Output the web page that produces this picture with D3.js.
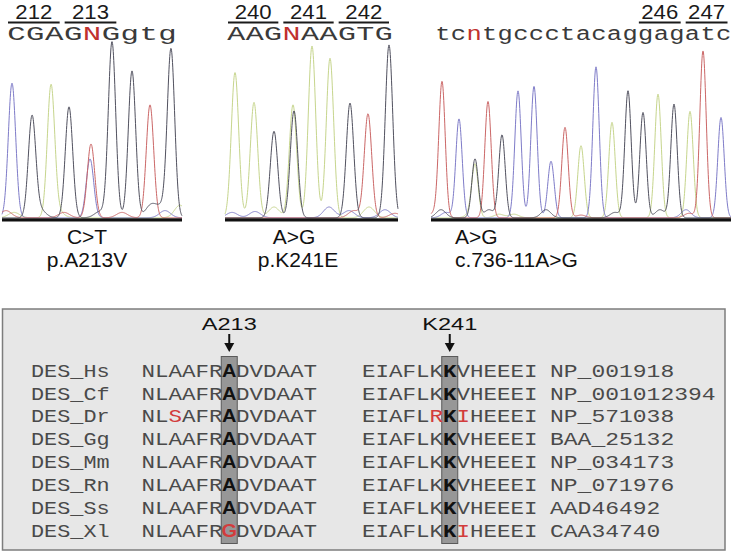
<!DOCTYPE html>
<html><head><meta charset="utf-8">
<script src="https://cdn.jsdelivr.net/npm/d3@7"></script>
<style>body{margin:0;background:#fff}svg{display:block}</style>
</head><body><svg id="c" width="733" height="552"></svg>
<script>
// ---------------- data ----------------
const calls1 = "CGAGNGgtg";
const calls2 = "AAGNAAGTG";
const calls3 = "tcntgccctacaggagatc";
const codons1 = ["212", "213"];
const codons2 = ["240", "241", "242"];
const codons3 = ["246", "247"];
const change1 = ["C>T", "p.A213V"];
const change2 = ["A>G", "p.K241E"];
const change3 = ["A>G", "c.736-11A>G"];

// chromatogram peaks: [scan, signal (RFU), dye]
const peaks1 = [[10,750,"C"],[30,556,"G"],[49,728,"A"],[67,618,"G"],[89,411,"T"],[88,328,"C"],
                [110,978,"G"],[130,818,"G"],[148,629,"T"],[169,929,"G"]];
const minor1 = [[4,40,"T"],[12,30,"A"],[38,45,"G"],[56,35,"A"],[62,30,"T"],[98,35,"G"],[120,30,"T"],
                [149,70,"G"],[160,55,"G"],[163,40,"C"],[178,70,"A"]];
const peaks2 = [[10,809,"A"],[29,643,"A"],[49,482,"G"],[68,629,"A"],[69,596,"G"],[87,957,"A"],
                [105,889,"A"],[125,639,"G"],[143,578,"T"],[164,963,"G"]];
const minor2 = [[7,30,"C"],[30,35,"C"],[49,60,"A"],[104,60,"C"],[124,40,"C"],[129,40,"T"],
                [144,60,"A"],[160,45,"C"],[170,25,"T"]];
const peaks3 = [[11,754,"T"],[28,550,"C"],[44,328,"G"],[44,283,"A"],[57,648,"T"],[71,461,"G"],
                [87,707,"C"],[103,732,"C"],[120,315,"C"],[134,504,"T"],[150,402,"A"],[165,841,"C"],
                [181,532,"A"],[197,707,"G"],[212,587,"G"],[227,689,"A"],[243,633,"G"],[259,593,"A"],
                [272,929,"T"],[290,559,"C"]];
const minor3 = [[3,25,"T"],[10,45,"G"],[15,30,"C"],[40,25,"A"],[58,45,"G"],[68,20,"A"],[83,20,"A"],
                [115,45,"G"],[150,15,"T"],[184,30,"G"],[229,45,"G"],[255,45,"C"],[258,25,"T"]];

// alignment
const species = ["DES_Hs","DES_Cf","DES_Dr","DES_Gg","DES_Mm","DES_Rn","DES_Ss","DES_Xl"];
const blockA = ["NLAAFRADVDAAT","NLAAFRADVDAAT","NLSAFRADVDAAT","NLAAFRADVDAAT",
                "NLAAFRADVDAAT","NLAAFRADVDAAT","NLAAFRADVDAAT","NLAAFRGDVDAAT"];
const blockK = ["EIAFLKKVHEEEI","EIAFLKKVHEEEI","EIAFLRKIHEEEI","EIAFLKKVHEEEI",
                "EIAFLKKVHEEEI","EIAFLKKVHEEEI","EIAFLKKVHEEEI","EIAFLKKIHEEEI"];
const accessions = ["NP_001918","NP_001012394","NP_571038","BAA_25132",
                    "NP_034173","NP_071976","AAD46492","CAA34740"];
const siteLabels = ["A213", "K241"];
const sitePos = [6, 6]; // column index within each block

// ---------------- drawing ----------------
const svg = d3.select("#c");
const dyeColor = {A:"#c6d58c", C:"#7e7bc8", G:"#50505e", T:"#cb6666"};
const dyeOrder = ["A","C","T","G"];
const SANS = "'Liberation Sans', Arial, sans-serif";
const MONO = "'Liberation Mono', 'Courier New', monospace";

function fit(sel, target) {
  const w = sel.node().getComputedTextLength();
  const x = +sel.attr("data-x"), y = +sel.attr("data-y");
  sel.attr("transform", `translate(${x},${y}) scale(${target / w},1)`);
}
function ctext(g, x, y, str, opts) {
  const t = g.append("text").attr("data-x", x).attr("data-y", y)
    .attr("transform", `translate(${x},${y})`)
    .attr("text-anchor", opts.anchor || "middle")
    .style("font-family", opts.font).style("font-size", opts.size + "px")
    .style("font-weight", opts.weight || "normal")
    .attr("fill", opts.fill || "#222").text(str);
  if (opts.sx) t.attr("transform", `translate(${x},${y}) scale(${opts.sx},1)`);
  if (opts.width) fit(t, opts.width);
  return t;
}

const panels = [
  {range:[2,182], domain:[0,180], sigma:3.7, peaks:peaks1, minor:minor1, calls:calls1,
   seqX:7, seqW:170, codons:codons1, codonStart:0, change:change1, chX:[87,87], anchor:"middle"},
  {range:[225,398], domain:[0,173], sigma:3.7, peaks:peaks2, minor:minor2, calls:calls2,
   seqX:227, seqW:166, codons:codons2, codonStart:0, change:change2, chX:[294,298], anchor:"middle"},
  {range:[431,731], domain:[0,300], sigma:3.2, peaks:peaks3, minor:minor3, calls:calls3,
   seqX:435, seqW:296.5, codons:codons3, codonStart:13, change:change3, chX:[455,455], anchor:"start"}
];

const y = d3.scaleLinear().domain([0, 1000]).range([218.5, 39]);

panels.forEach(p => {
  const x = d3.scaleLinear().domain(p.domain).range(p.range);
  const g = svg.append("g");
  const comps = p.peaks.map(d => ({s:d[0], h:d[1], dye:d[2], w:p.sigma}))
    .concat(p.minor.map(d => ({s:d[0], h:d[1], dye:d[2], w:p.sigma * 1.5})));
  const samples = d3.range(p.domain[0], p.domain[1] + 0.001, 0.25);
  const line = d3.line().x(d => x(d[0])).y(d => y(d[1]));
  dyeOrder.forEach(dye => {
    const cs = comps.filter(c => c.dye === dye);
    const data = samples.map(s => [s, cs.reduce((a, c) => a + c.h * Math.exp(-((s - c.s) ** 2) / (2 * c.w * c.w)), 0) + 4]);
    g.append("path").attr("d", line(data)).attr("fill", "none")
      .attr("stroke", dyeColor[dye]).attr("stroke-width", 1).attr("stroke-linejoin", "round");
  });
  // baseline bar
  g.append("rect").attr("x", p.range[0]).attr("y", 218.3).attr("width", p.range[1] - p.range[0])
    .attr("height", 3.2).attr("fill", "#111");
  // base calls
  const n = p.calls.length, cw = p.seqW / n;
  p.calls.split("").forEach((ch, i) => {
    ctext(g, p.seqX + (i + 0.5) * cw, 39.5, ch, {font:MONO, size:20.5, sx: cw / 12.6,
      fill: (ch === "N" || ch === "n") ? "#c0302e" : "#3a3a3a"});
  });
  // codon numbers with overbars
  p.codons.forEach((c, k) => {
    const x0 = p.seqX + (p.codonStart + 3 * k) * cw + 1;
    const x1 = p.seqX + (p.codonStart + 3 * k + 3) * cw - 4;
    g.append("line").attr("x1", x0).attr("x2", x1).attr("y1", 22.5).attr("y2", 22.5)
      .attr("stroke", "#1a1a1a").attr("stroke-width", 2.2);
    ctext(g, (x0 + x1) / 2, 18.5, c, {font:SANS, size:20, width:37, fill:"#1a1a1a"});
  });
  // mutation labels
  ctext(g, p.chX[0], 243.5, p.change[0], {font:SANS, size:21, anchor:p.anchor, fill:"#111"});
  ctext(g, p.chX[1], 267, p.change[1], {font:SANS, size:21, anchor:p.anchor, fill:"#111"});
});

// ---------------- alignment box ----------------
const box = svg.append("g");
box.append("rect").attr("x", 2.5).attr("y", 309).attr("width", 722.5).attr("height", 241)
  .attr("fill", "#e7e7e7").attr("stroke", "#7d7d7d").attr("stroke-width", 1.5);

const rowY = d3.scalePoint().domain(species).range([376.7, 536.7]);
const CW = 13.5, FS = 18, SX = CW / 10.8;
const blocks = [{seqs:blockA, x0:141.5, boldFont:SANS}, {seqs:blockK, x0:362, boldFont:MONO}];
const colX = (x0, i) => x0 + (i + 0.5) * CW;

// highlight columns
blocks.forEach((b, k) => {
  const cx = colX(b.x0, sitePos[k]);
  box.append("rect").attr("x", cx - 8).attr("y", 356.5).attr("width", 16).attr("height", 187)
    .attr("fill", "#979797").attr("stroke", "#5a5a5a").attr("stroke-width", 1);
  ctext(box, cx, 329.5, siteLabels[k], {font:SANS, size:17, width:55, fill:"#111"});
  box.append("line").attr("x1", cx).attr("x2", cx).attr("y1", 334).attr("y2", 344)
    .attr("stroke", "#111").attr("stroke-width", 2);
  box.append("path").attr("d", `M${cx - 5},${343} L${cx + 5},${343} L${cx},${352} Z`).attr("fill", "#111");
});

species.forEach((sp, r) => {
  const yy = rowY(sp);
  sp.split("").forEach((ch, i) => ctext(box, 31 + (i + 0.5) * 13.1, yy, ch, {font:MONO, size:FS, sx:13.1 / 10.8, fill:"#4a4a4a"}));
  blocks.forEach((b, k) => {
    b.seqs[r].split("").forEach((ch, i) => {
      const diff = ch !== b.seqs[0][i];
      const site = i === sitePos[k];
      ctext(box, colX(b.x0, i), yy, ch, {
        font: site ? b.boldFont : MONO, size: site ? (k === 0 ? 19 : FS) : FS,
        weight: site ? "bold" : "normal",
        sx: site ? (k === 0 ? 1.05 : SX) : SX,
        fill: diff ? "#d23c3c" : (site ? "#111" : "#4a4a4a")});
    });
  });
  accessions[r].split("").forEach((ch, i) => ctext(box, 550 + (i + 0.5) * 13.8, yy, ch, {font:MONO, size:FS, sx:13.8 / 10.8, fill:"#4a4a4a"}));
});
</script>
</body></html>
